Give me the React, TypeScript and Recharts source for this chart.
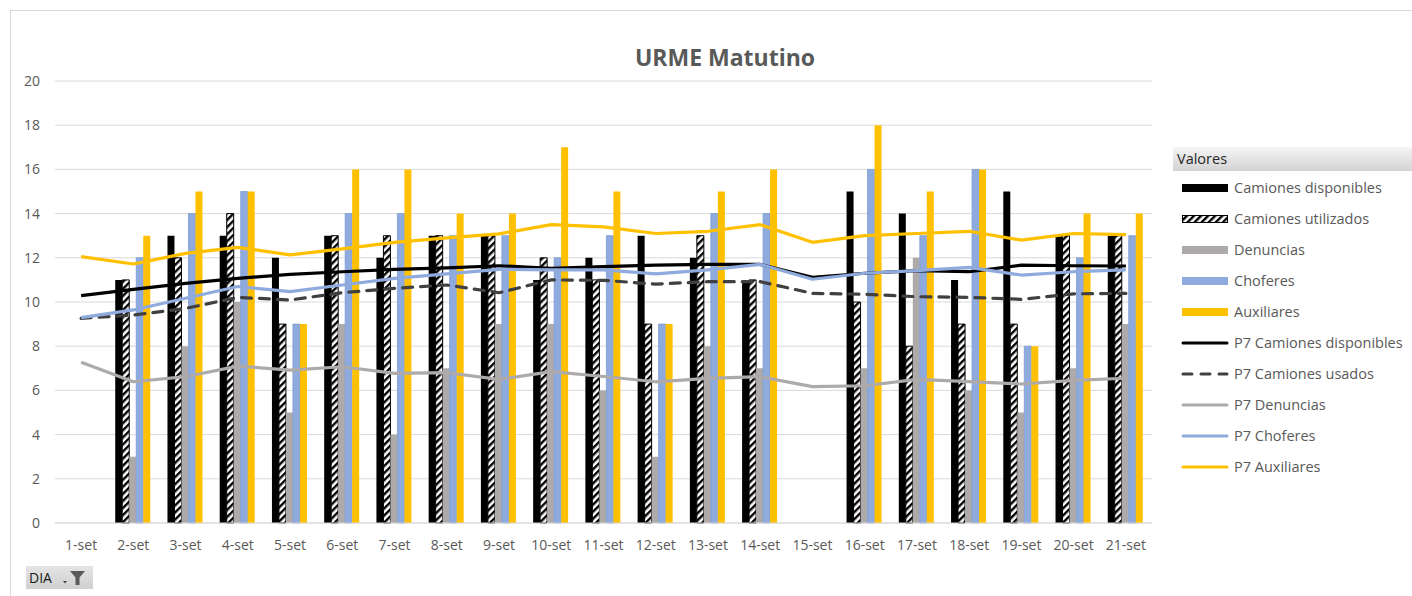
import { ComposedChart, Bar, Line, XAxis, YAxis, CartesianGrid } from "recharts";

const dias = [
  "1-set", "2-set", "3-set", "4-set", "5-set", "6-set", "7-set", "8-set", "9-set", "10-set", "11-set",
  "12-set", "13-set", "14-set", "15-set", "16-set", "17-set", "18-set", "19-set", "20-set", "21-set",
];

const camionesDisponibles = [null, 11, 13, 13, 12, 13, 12, 13, 13, 11, 12, 13, 12, 11, null, 15, 14, 11, 15, 13, 13];
const camionesUtilizados = [null, 11, 12, 14, 9, 13, 13, 13, 13, 12, 11, 9, 13, 11, null, 10, 8, 9, 9, 13, 13];
const denuncias = [null, 3, 8, 10, 5, 9, 4, 7, 9, 9, 6, 3, 8, 7, null, 7, 12, 6, 5, 7, 9];
const choferes = [null, 12, 14, 15, 9, 14, 14, 13, 13, 12, 13, 9, 14, 14, null, 16, 13, 16, 8, 12, 13];
const auxiliares = [null, 13, 15, 15, 9, 16, 16, 14, 14, 17, 15, 9, 15, 16, null, 18, 15, 16, 8, 14, 14];

const p7Disponibles = [10.29, 10.57, 10.84, 11.07, 11.25, 11.37, 11.48, 11.54, 11.64, 11.52, 11.6, 11.67, 11.7, 11.7, 11.12, 11.3, 11.42, 11.37, 11.67, 11.64, 11.63];
const p7Usados = [9.26, 9.41, 9.71, 10.21, 10.09, 10.42, 10.62, 10.77, 10.42, 11.0, 10.98, 10.81, 10.92, 10.92, 10.39, 10.35, 10.24, 10.21, 10.12, 10.37, 10.39];
const p7Denuncias = [7.27, 6.39, 6.62, 7.1, 6.92, 7.07, 6.77, 6.8, 6.5, 6.85, 6.63, 6.39, 6.54, 6.62, 6.17, 6.21, 6.5, 6.4, 6.29, 6.45, 6.55];
const p7Choferes = [9.29, 9.64, 10.17, 10.7, 10.47, 10.77, 11.07, 11.27, 11.48, 11.45, 11.45, 11.27, 11.45, 11.7, 11.03, 11.3, 11.42, 11.57, 11.22, 11.37, 11.45];
const p7Auxiliares = [12.05, 11.72, 12.2, 12.47, 12.13, 12.4, 12.7, 12.9, 13.08, 13.5, 13.4, 13.1, 13.2, 13.5, 12.7, 13.0, 13.1, 13.2, 12.8, 13.1, 13.05];

const yTicks = [0, 2, 4, 6, 8, 10, 12, 14, 16, 18, 20];

const data = dias.map((dia, i) => ({
  dia,
  disponibles: camionesDisponibles[i],
  utilizados: camionesUtilizados[i],
  denuncias: denuncias[i],
  choferes: choferes[i],
  auxiliares: auxiliares[i],
  p7Disponibles: p7Disponibles[i],
  p7Usados: p7Usados[i],
  p7Denuncias: p7Denuncias[i],
  p7Choferes: p7Choferes[i],
  p7Auxiliares: p7Auxiliares[i],
}));

const FONT = "'Open Sans', sans-serif";
const GRAY_TEXT = "#595959";

const legendItems = [
  { name: "Camiones disponibles", kind: "bar", color: "#000000" },
  { name: "Camiones utilizados", kind: "hatch", color: "#000000" },
  { name: "Denuncias", kind: "bar", color: "#AEAAAA" },
  { name: "Choferes", kind: "bar", color: "#8FAADC" },
  { name: "Auxiliares", kind: "bar", color: "#FFC000" },
  { name: "P7 Camiones disponibles", kind: "line", color: "#000000" },
  { name: "P7 Camiones usados", kind: "dash", color: "#404040" },
  { name: "P7 Denuncias", kind: "line", color: "#AEAAAA" },
  { name: "P7 Choferes", kind: "line", color: "#8FAADC" },
  { name: "P7 Auxiliares", kind: "line", color: "#FFC000" },
];

const LegendSymbol = ({ kind, color }: { kind: string; color: string }) => {
  return (
    <svg width={48} height={12} style={{ display: "block" }}>
      <defs>
        <pattern id="hatchLegend" width="5" height="5" patternUnits="userSpaceOnUse" patternTransform="rotate(45)">
          <rect width="5" height="5" fill="#fff" />
          <rect width="2.4" height="5" fill="#000" />
        </pattern>
      </defs>
      {kind === "bar" && <rect x={1} y={2} width={46} height={8} fill={color} />}
      {kind === "hatch" && <rect x={1.5} y={2.5} width={45} height={7} fill="url(#hatchLegend)" stroke="#000" />}
      {kind === "line" && <line x1={2} y1={6} x2={46} y2={6} stroke={color} strokeWidth={3} strokeLinecap="round" />}
      {kind === "dash" && (
        <line x1={2} y1={6} x2={46} y2={6} stroke={color} strokeWidth={3} strokeLinecap="round" strokeDasharray="9 9" />
      )}
    </svg>
  );
};

export default function App() {
  return (
    <div style={{ position: "absolute", left: 0, top: 0, width: 1412, height: 596, background: "#fff", overflow: "hidden", fontFamily: FONT }}>
      <div style={{ position: "absolute", left: 10, top: 10, width: 1420, height: 600, borderLeft: "1.5px solid #d9d9d9", borderTop: "1.5px solid #d9d9d9" }} />

      <div style={{ position: "absolute", left: 525, top: 46, width: 400, textAlign: "center", fontSize: 23, lineHeight: "23px", fontWeight: 700, color: GRAY_TEXT }}>
        URME Matutino
      </div>

      <div style={{ position: "absolute", left: 0, top: 0 }}>
        <ComposedChart
          width={1412}
          height={596}
          data={data}
          margin={{ top: 81, right: 260, bottom: 43, left: 0 }}
          barCategoryGap={8}
          barGap={0}
        >
          <defs>
            <pattern id="hatch" width="5" height="5" patternUnits="userSpaceOnUse" patternTransform="rotate(45)">
              <rect width="5" height="5" fill="#fff" />
              <rect width="2.4" height="5" fill="#000" />
            </pattern>
          </defs>
          <CartesianGrid vertical={false} stroke="#d9d9d9" strokeWidth={1} />
          <XAxis
            dataKey="dia"
            height={30}
            interval={0}
            tickLine={false}
            tickMargin={11}
            axisLine={{ stroke: "#d9d9d9", strokeWidth: 1 }}
            tick={{ fill: GRAY_TEXT, fontSize: 14, fontFamily: FONT }}
          />
          <YAxis
            width={55}
            domain={[0, 20]}
            ticks={yTicks}
            interval={0}
            axisLine={false}
            tickLine={false}
            tickMargin={9}
            tick={{ fill: GRAY_TEXT, fontSize: 14, fontFamily: FONT }}
          />
          <Bar dataKey="disponibles" fill="#000000" isAnimationActive={false} />
          <Bar dataKey="utilizados" fill="url(#hatch)" stroke="#000000" strokeWidth={1} isAnimationActive={false} />
          <Bar dataKey="denuncias" fill="#AEAAAA" isAnimationActive={false} />
          <Bar dataKey="choferes" fill="#8FAADC" stroke="#7A9CD6" strokeWidth={0.8} isAnimationActive={false} />
          <Bar dataKey="auxiliares" fill="#FFC000" isAnimationActive={false} />
          <Line dataKey="p7Disponibles" type="linear" stroke="#000000" strokeWidth={3.2} dot={false} strokeLinejoin="round" isAnimationActive={false} />
          <Line dataKey="p7Usados" type="linear" stroke="#404040" strokeWidth={3.2} strokeDasharray="10 8" strokeLinecap="round" dot={false} isAnimationActive={false} />
          <Line dataKey="p7Denuncias" type="linear" stroke="#AEAAAA" strokeWidth={3.2} dot={false} strokeLinejoin="round" isAnimationActive={false} />
          <Line dataKey="p7Choferes" type="linear" stroke="#8FAADC" strokeWidth={3.2} dot={false} strokeLinejoin="round" isAnimationActive={false} />
          <Line dataKey="p7Auxiliares" type="linear" stroke="#FFC000" strokeWidth={3.2} dot={false} strokeLinejoin="round" isAnimationActive={false} />
        </ComposedChart>
      </div>

      <div style={{ position: "absolute", left: 1173, top: 147, width: 239, height: 24, background: "linear-gradient(to bottom, #f5f5f5, #d3d3d3)" }}>
        <div style={{ position: "absolute", left: 4, top: 0, lineHeight: "24px", fontSize: 14.5, color: "#262626" }}>Valores</div>
      </div>
      {legendItems.map((item, i) => (
        <div key={item.name} style={{ position: "absolute", left: 1181, top: 188 - 10 + i * 31, height: 20, display: "flex", alignItems: "center" }}>
          <LegendSymbol kind={item.kind} color={item.color} />
          <span style={{ marginLeft: 5, fontSize: 14.5, lineHeight: "20px", color: GRAY_TEXT, whiteSpace: "nowrap" }}>{item.name}</span>
        </div>
      ))}

      <div style={{ position: "absolute", left: 26, top: 566, width: 67, height: 23, background: "linear-gradient(to bottom, #e4e4e4, #d0d0d0)" }}>
        <div style={{ position: "absolute", left: 3, top: 0, lineHeight: "23px", fontSize: 14, color: "#1a1a1a" }}>DIA</div>
        <svg width={30} height={23} style={{ position: "absolute", left: 35, top: 0 }}>
          <path d="M2 15 L6 15 L4 17.5 Z" fill="#404040" />
          <path d="M9 5 L24 5 L18.5 11.5 L18.5 19 L14.5 19 L14.5 11.5 Z" fill="#595959" />
        </svg>
      </div>
    </div>
  );
}
